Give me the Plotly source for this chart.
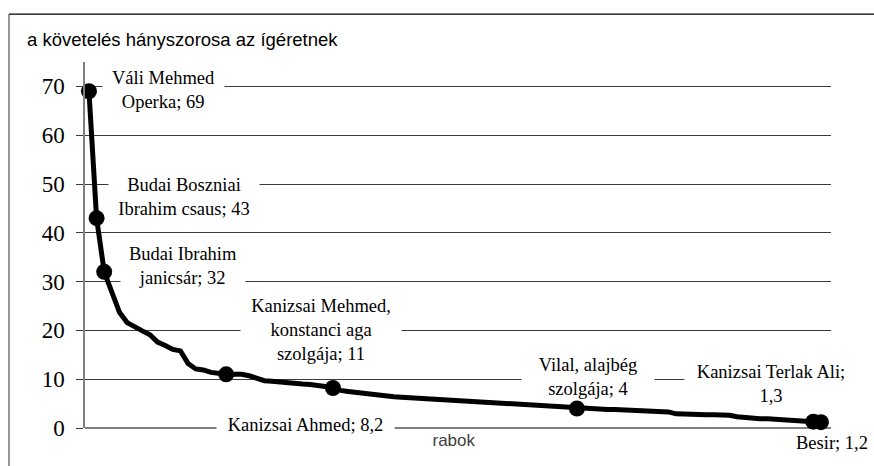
import plotly.graph_objects as go

# values (one per prisoner, sorted descending)
values = [69, 43, 32, 28, 23.7, 21.6, 20.6, 19.9, 19.1, 17.6,
          16.9, 16.1, 15.8, 13.2, 12.1, 11.9, 11.4, 11.1, 11, 11.0,
          11.0, 10.7, 10.2, 9.7, 9.6, 9.4, 9.2, 9.1, 9.0, 8.9,
          8.8, 8.5, 8.2, 7.7, 7.5, 7.3, 7.1, 6.9, 6.6, 6.5,
          6.4, 6.3, 6.2, 6.1, 6.0, 5.9, 5.9, 5.8, 5.7, 5.6,
          5.5, 5.4, 5.3, 5.2, 5.1, 5.0, 5.0, 4.9, 4.8, 4.7,
          4.6, 4.5, 4.3, 4.1, 4.0, 4.0, 3.9, 3.9, 3.8, 3.8,
          3.7, 3.7, 3.6, 3.6, 3.5, 3.4, 3.3, 2.9, 2.8, 2.8,
          2.8, 2.7, 2.7, 2.7, 2.6, 2.3, 2.1, 2.0, 1.9, 1.9,
          1.8, 1.8, 1.7, 1.7, 1.5, 1.3, 1.2]
prisoners = list(range(len(values)))

# labelled prisoners
label_idx = [0, 1, 2, 18, 32, 64, 95, 96]
label_text = [
    "Váli Mehmed<br>Operka; 69",
    "Budai Boszniai<br>Ibrahim csaus; 43",
    "Budai Ibrahim<br>janicsár; 32",
    "Kanizsai Mehmed,<br>konstanci aga<br>szolgája; 11",
    "Kanizsai Ahmed; 8,2",
    "Vilal, alajbég<br>szolgája; 4",
    "Kanizsai Terlak Ali;<br>1,3",
    "Besir; 1,2",
]
label_dx = [75, 87, 79, 95, -27, 11, -42, 11]
label_dy = [1, 21, 6, 44, -37, 31, 38, -21]
label_w = [121, 150, 124, 160, 177, 132, 172, 80]

y_ticks = [0, 10, 20, 30, 40, 50, 60, 70]
y_title = "a követelés hányszorosa az ígéretnek"
x_title = "rabok"

SERIF = "Liberation Serif, Times New Roman, serif"
SANS = "Liberation Sans, Arial, sans-serif"

fig = go.Figure()
fig.add_trace(go.Scatter(
    x=prisoners, y=values, mode="lines",
    line=dict(color="black", width=5),
    hoverinfo="skip", cliponaxis=False, showlegend=False,
))
fig.add_trace(go.Scatter(
    x=[prisoners[i] for i in label_idx], y=[values[i] for i in label_idx],
    mode="markers", marker=dict(color="black", size=16),
    cliponaxis=False, showlegend=False,
))

for i, t, dx, dy, w in zip(label_idx, label_text, label_dx, label_dy, label_w):
    fig.add_annotation(
        x=prisoners[i], y=values[i], xref="x", yref="y", text=t,
        showarrow=False, xshift=dx, yshift=dy, width=w,
        bgcolor="white", borderpad=0,
        font=dict(family=SERIF, size=18.5, color="black"),
    )

fig.add_annotation(
    x=0.5, y=0, xref="paper", yref="paper", text=x_title, showarrow=False,
    xanchor="center", yanchor="top", xshift=-4, yshift=-2, width=128,
    bgcolor="white", borderpad=0,
    font=dict(family=SANS, size=17, color="#404040"),
)

# outer frame (top and left edges; the rest lies outside the view)
fig.add_shape(type="line", xref="paper", yref="paper",
              x0=-0.1019, x1=1.3, y0=1.131, y1=1.131,
              line=dict(color="black", width=1.2), layer="below")
fig.add_shape(type="line", xref="paper", yref="paper",
              x0=-0.1019, x1=-0.1019, y0=-0.3, y1=1.131,
              line=dict(color="#555555", width=1.2), layer="below")

W, H = 874, 466
fig.update_layout(
    width=W, height=H,
    margin=dict(l=85, r=43, t=62, b=38),
    paper_bgcolor="white", plot_bgcolor="white",
    title=dict(text=y_title, x=27 / W, xanchor="left", xref="container",
               y=1 - 40 / H, yanchor="middle", yref="container",
               font=dict(family=SANS, size=18.5, color="black")),
    xaxis=dict(range=[-0.52, 97.32], showgrid=False, zeroline=False,
               showticklabels=False, ticks="", showline=False, fixedrange=True),
    yaxis=dict(range=[0, 75], tickvals=y_ticks, ticktext=[str(v) for v in y_ticks],
               showgrid=True, gridcolor="#3a3a3a", gridwidth=1,
               zeroline=True, zerolinecolor="#808080", zerolinewidth=1.5,
               showline=True, linecolor="#808080", linewidth=1.5,
               ticks="outside", ticklen=7, tickcolor="#3a3a3a",
               ticklabelstandoff=7,
               tickfont=dict(family=SERIF, size=23, color="black"),
               fixedrange=True),
)

fig.write_html(
    "out.html",
    config={"displayModeBar": False},
    post_script=("document.documentElement.style.overflow='hidden';"
                 "document.body.style.margin='0';"
                 "document.body.style.overflow='hidden';"),
)
